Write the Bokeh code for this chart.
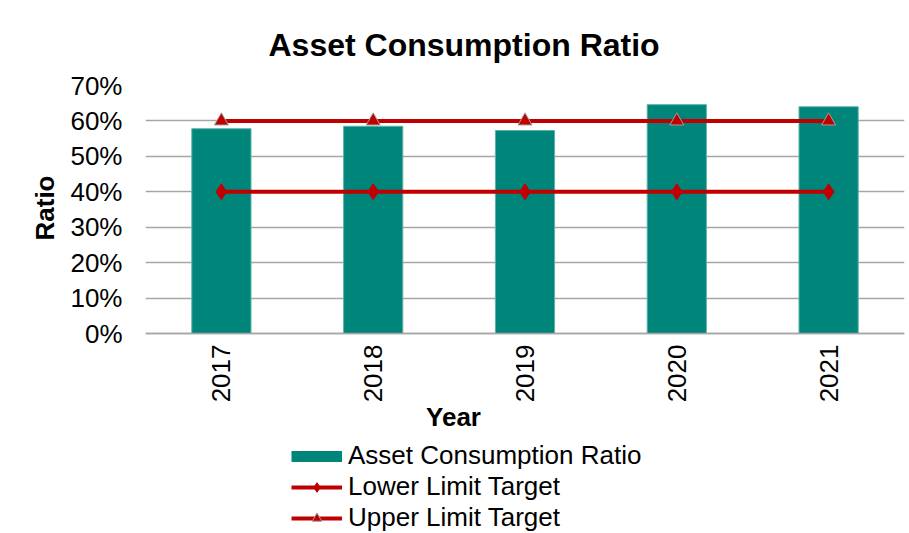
import math
from bokeh.plotting import figure
from bokeh.models import (ColumnDataSource, Legend, LegendItem, Label,
                          NumeralTickFormatter, FixedTicker, Range1d, Title)
from bokeh.embed import file_html
from bokeh.resources import INLINE

years = ["2017", "2018", "2019", "2020", "2021"]
ratio = [0.578, 0.585, 0.573, 0.646, 0.640]
lower_limit = [0.40, 0.40, 0.40, 0.40, 0.40]
upper_limit = [0.60, 0.60, 0.60, 0.60, 0.60]
y_ticks = [0.0, 0.1, 0.2, 0.3, 0.4, 0.5, 0.6, 0.7]

FONT = "Liberation Sans"
TEAL = "#00857A"
RED = "#C00000"
GRID = "#a6a6a6"

src = ColumnDataSource(dict(year=years, ratio=ratio, lower=lower_limit, upper=upper_limit))

# The frame runs down to the bottom edge so that the year axis (pinned at 0),
# the "Year" caption and the legend can live beneath the bars without clipping.
Y_MIN = -200 * 0.7 / 248
p = figure(x_range=years, y_range=Range1d(Y_MIN, 0.7), width=909, height=533,
           output_backend="svg", toolbar_location=None,
           min_border_left=145, min_border_right=5,
           min_border_top=85, min_border_bottom=0)

p.title = Title(text="Asset Consumption Ratio", align="left", offset=123,
                text_font=FONT, text_font_size="32px", text_font_style="bold",
                text_color="black", standoff=45)

p.outline_line_color = None
p.xgrid.grid_line_color = None
p.ygrid.grid_line_color = GRID
p.ygrid.grid_line_width = 1.5
p.ygrid.ticker = FixedTicker(ticks=y_ticks)

# y axis
p.yaxis.ticker = FixedTicker(ticks=y_ticks)
p.yaxis.formatter = NumeralTickFormatter(format="0%")
p.yaxis.axis_line_color = None
p.yaxis.major_tick_line_color = None
p.yaxis.minor_tick_line_color = None
p.yaxis.major_label_standoff = 17
p.yaxis.major_label_text_font = FONT
p.yaxis.major_label_text_font_size = "26px"
p.yaxis.major_label_text_color = "black"

ratio_title = Title(text="Ratio", align="left", offset=293,
                    text_font=FONT, text_font_size="26px", text_font_style="bold",
                    text_color="black", standoff=16)
p.add_layout(ratio_title, "left")

# x axis, pinned at y = 0
p.xaxis.fixed_location = 0
p.xaxis.axis_line_color = GRID
p.xaxis.axis_line_width = 1.5
p.xaxis.major_tick_line_color = None
p.xaxis.minor_tick_line_color = None
p.xaxis.major_label_orientation = math.pi / 2
p.xaxis.major_label_standoff = 5
p.xaxis.major_label_text_font = FONT
p.xaxis.major_label_text_font_size = "26px"
p.xaxis.major_label_text_color = "black"

bars = p.vbar(x="year", top="ratio", width=0.39, source=src,
              fill_color=TEAL, line_color="#5fb3aa", line_width=1)

lo_line = p.line(x="year", y="lower", source=src, line_color=RED, line_width=4)
lo_pts = p.scatter(x="year", y="lower", source=src, marker="diamond",
                   size=16, fill_color=RED, line_color=RED)
up_line = p.line(x="year", y="upper", source=src, line_color=RED, line_width=4)
up_pts = p.scatter(x="year", y="upper", source=src, marker="triangle", size=14,
                   fill_color=RED, line_color="#a0a0a0", line_width=1)

# legend swatch for the bars: a thin teal band as in the original (not drawn in the plot)
swatch = p.line(x="year", y="ratio", source=src, line_color=TEAL, line_width=11,
                visible=False)

year_label = Label(x=308, y=117, x_units="screen", y_units="screen", text="Year",
                   text_font=FONT, text_font_size="26px", text_font_style="bold",
                   text_color="black", text_align="center", text_baseline="middle")
p.add_layout(year_label)

legend = Legend(items=[
    LegendItem(label="Asset Consumption Ratio", renderers=[swatch]),
    LegendItem(label="Lower Limit Target", renderers=[lo_line, lo_pts]),
    LegendItem(label="Upper Limit Target", renderers=[up_line, up_pts]),
], location=(146, 0), orientation="vertical",
    glyph_width=51, glyph_height=24, label_height=24, spacing=0,
    padding=0, margin=0, label_standoff=6,
    border_line_color=None, background_fill_alpha=0,
    inactive_fill_alpha=0, click_policy="none",
    label_text_font=FONT, label_text_font_size="26px", label_text_color="black",
    label_text_line_height=1.0)
p.add_layout(legend)

open("out.html", "w").write(file_html(p, INLINE))
